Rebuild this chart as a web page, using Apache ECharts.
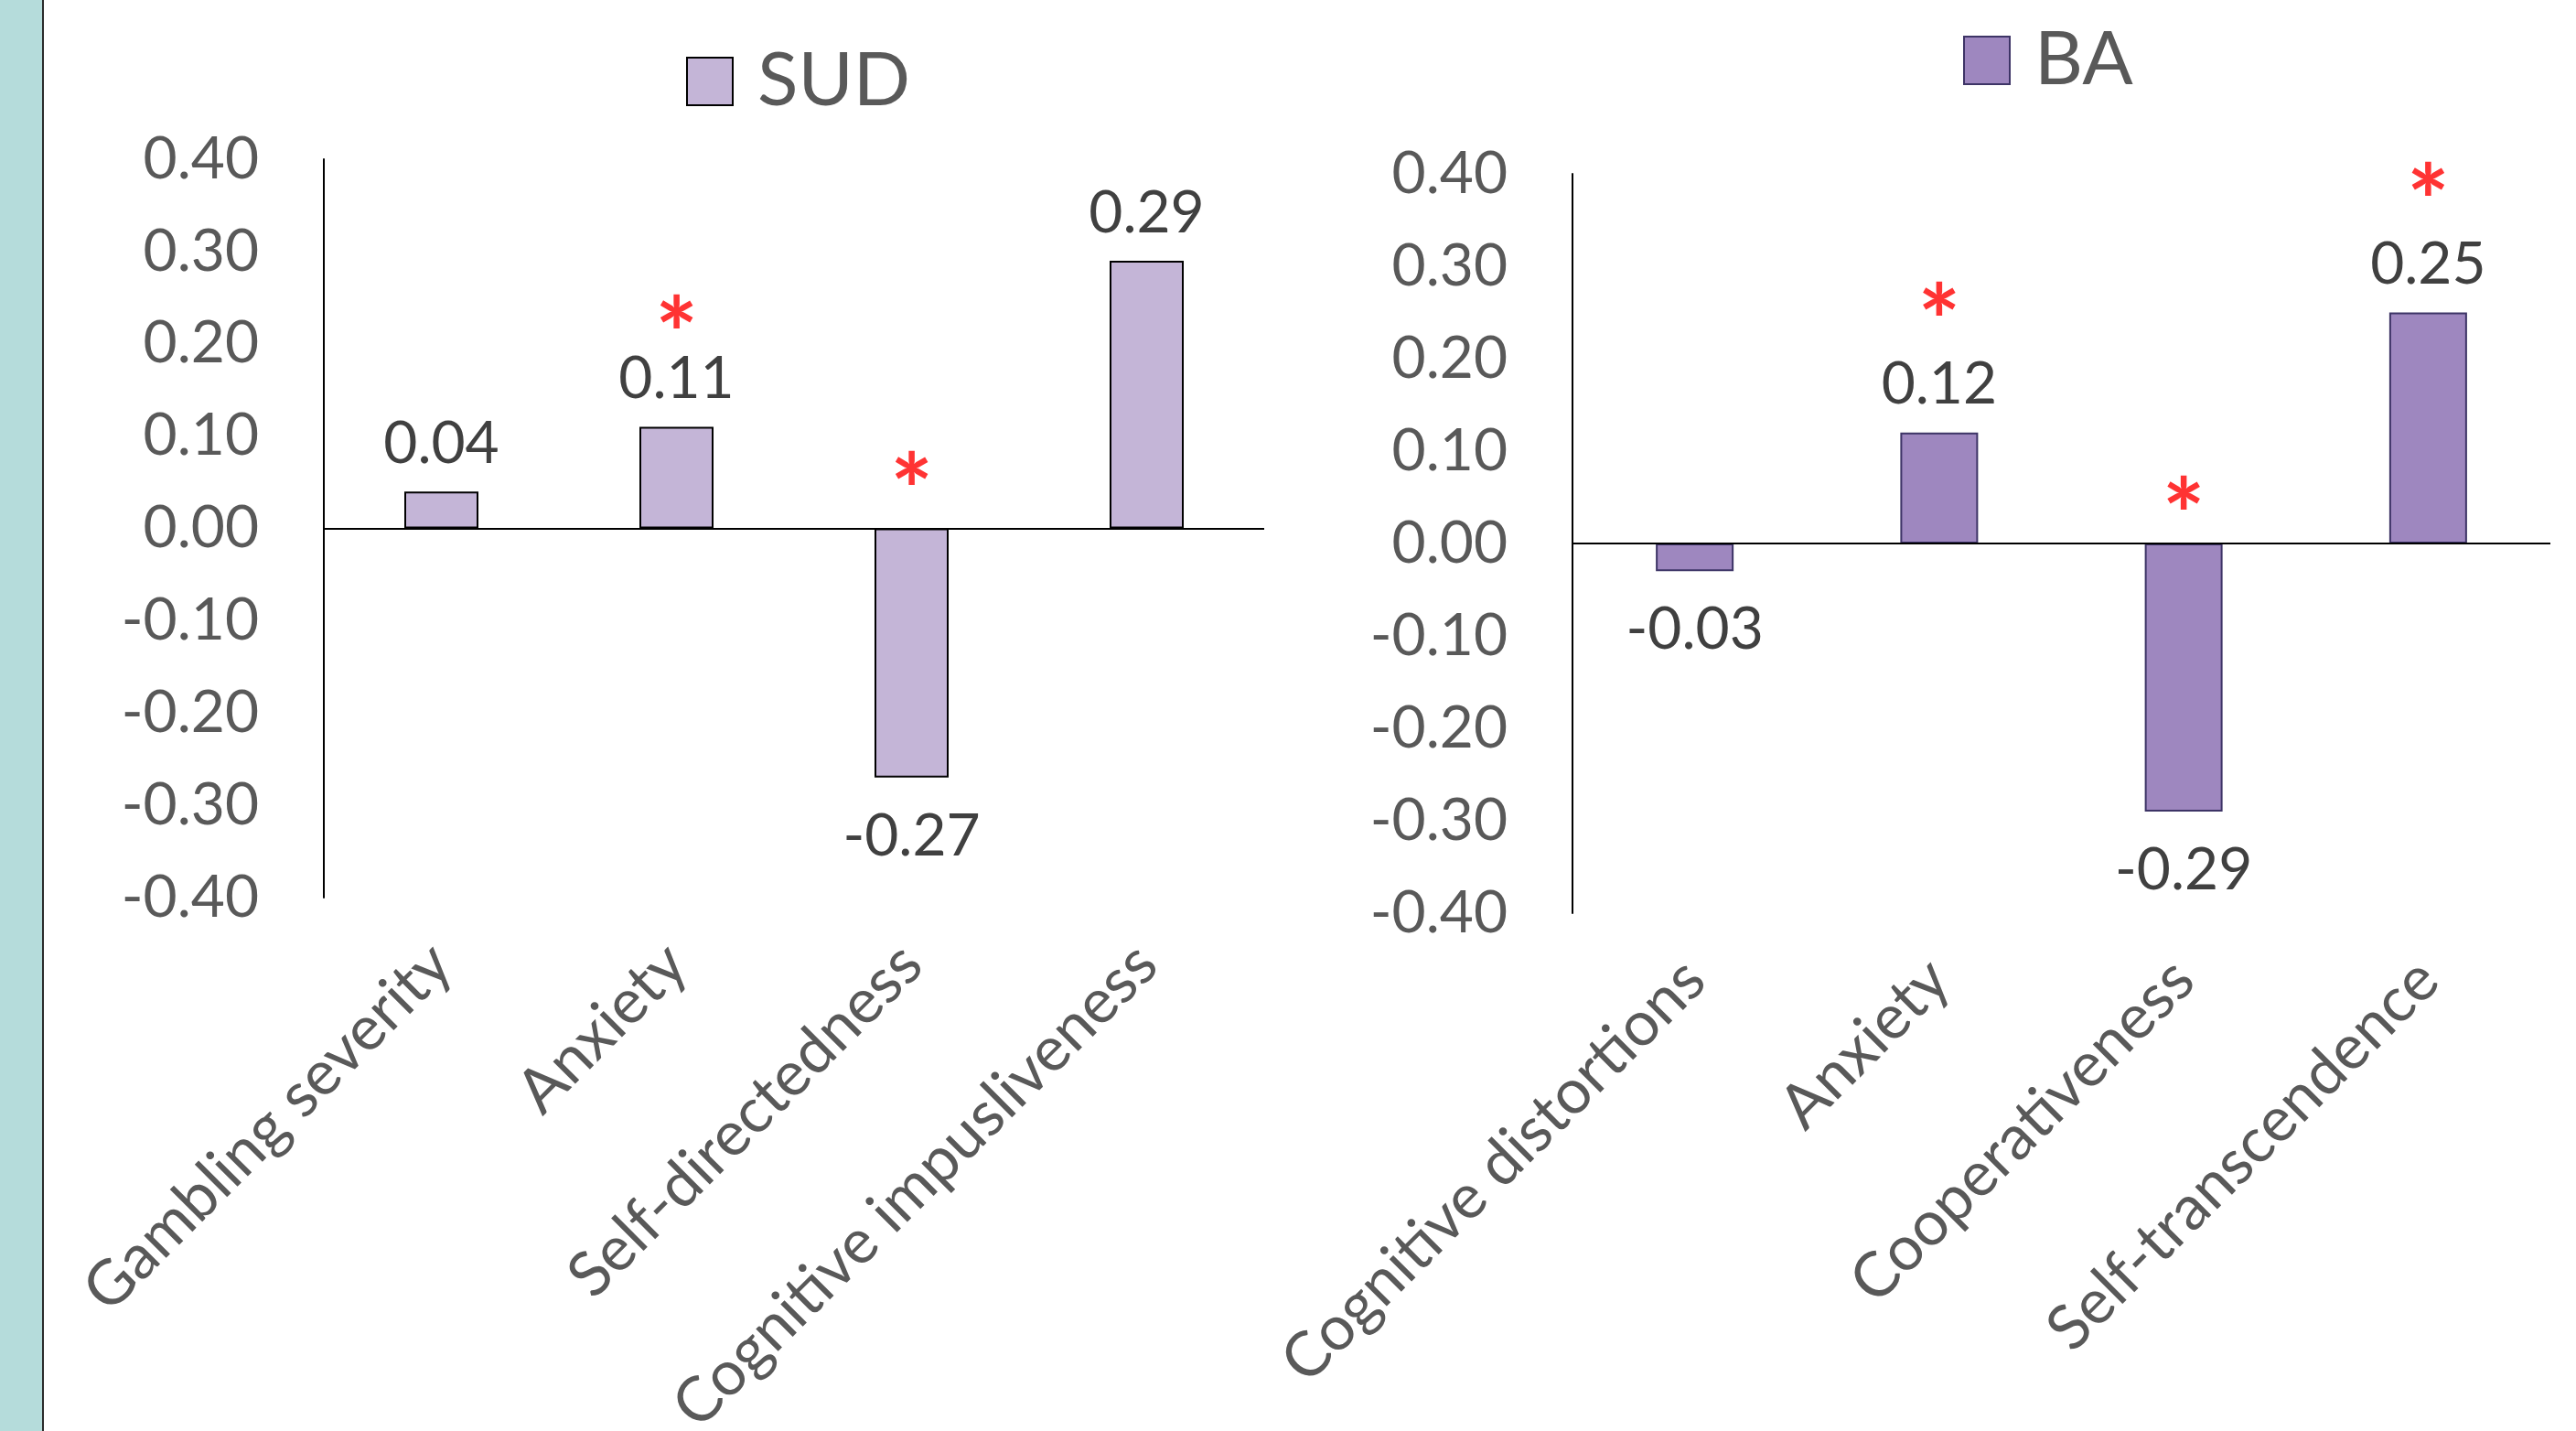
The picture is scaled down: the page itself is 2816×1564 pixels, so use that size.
<!DOCTYPE html>
<html>
<head>
<meta charset="utf-8">
<script src="https://cdn.jsdelivr.net/npm/echarts@6/dist/echarts.min.js"></script>
<style>
html,body{margin:0;padding:0;background:#fff;}
#c{width:2816px;height:1564px;}
</style>
</head>
<body>
<div id="c"></div>
<script>
// ---- data ----
const catsSUD = ['Gambling severity', 'Anxiety', 'Self-directedness', 'Cognitive impusliveness'];
const valsSUD = [0.04, 0.11, -0.27, 0.29];
const sigSUD  = [null, 0.23, 0.06, null];   // asterisk positions (axis units)

const catsBA = ['Cognitive distortions', 'Anxiety', 'Cooperativeness', 'Self-transcendence'];
const valsBA = [-0.03, 0.12, -0.29, 0.25];
const sigBA  = [null, 0.26, 0.05, 0.39];

const yTicks = { min: -0.4, max: 0.4, interval: 0.1 };

// ---- styles ----
const FONT = 'Lato';
const tickColor = '#595959';
const labelColor = '#404040';

function barData(vals) {
  return vals.map(v => ({
    value: v,
    label: v >= 0 ? { position: 'top', distance: 20 } : { position: 'bottom', distance: 32 }
  }));
}
function sigData(sig) {
  return sig.map((v, i) => v === null ? null : [i, v]);
}

const yAxisCommon = {
  type: 'value',
  min: yTicks.min, max: yTicks.max, interval: yTicks.interval,
  axisLine: { show: true, lineStyle: { color: '#000', width: 2 } },
  axisTick: { show: false },
  splitLine: { show: false },
  axisLabel: {
    color: tickColor, fontFamily: FONT, fontSize: 64, margin: 71,
    formatter: v => v.toFixed(2)
  }
};
function xAxisFor(cats, gridIndex, margin) {
  return {
    type: 'category', data: cats, gridIndex,
    axisLine: { show: false }, axisTick: { show: false },
    axisLabel: {
      rotate: 45, interval: 0, margin, color: tickColor,
      fontFamily: FONT, fontSize: 68
    }
  };
}

const zeroLine = {
  silent: true, symbol: 'none', label: { show: false },
  lineStyle: { color: '#000', width: 2, type: 'solid' },
  data: [{ yAxis: 0 }]
};

const sigLabel = {
  show: true, position: 'inside', formatter: '*', color: '#FF0000',
  fontFamily: FONT, fontWeight: 'bold', fontSize: 110, offset: [0, 24]
};

const option = {
  backgroundColor: '#fff',
  animation: false,
  graphic: [
    { type: 'rect', left: 0, top: 0, shape: { width: 46, height: 1564 }, style: { fill: '#B5DCDB' } },
    { type: 'rect', left: 46, top: 0, shape: { width: 2, height: 1564 }, style: { fill: '#2b2b2b' } }
  ],
  legend: [
    {
      data: ['SUD'], left: 750, top: 48, icon: 'rect', itemWidth: 50, itemHeight: 52, padding: 0,
      textStyle: { fontFamily: FONT, fontSize: 82, color: tickColor, padding: [0, 0, 0, 22] }
    },
    {
      data: ['BA'], left: 2146, top: 25, icon: 'rect', itemWidth: 50, itemHeight: 52, padding: 0,
      textStyle: { fontFamily: FONT, fontSize: 82, color: tickColor, padding: [0, 0, 0, 22] }
    }
  ],
  grid: [
    { left: 354, top: 174, width: 1028, height: 807, containLabel: false, outerBoundsMode: 'none' },
    { left: 1719, top: 190, width: 1069, height: 808, containLabel: false, outerBoundsMode: 'none' }
  ],
  xAxis: [xAxisFor(catsSUD, 0, 62), xAxisFor(catsBA, 1, 62)],
  yAxis: [Object.assign({ gridIndex: 0 }, yAxisCommon), Object.assign({ gridIndex: 1 }, yAxisCommon)],
  series: [
    {
      name: 'SUD', type: 'bar', xAxisIndex: 0, yAxisIndex: 0, barWidth: 81,
      data: barData(valsSUD),
      itemStyle: { color: '#C4B5D7', borderColor: '#000', borderWidth: 2 },
      label: { show: true, fontFamily: FONT, fontSize: 64, color: labelColor, formatter: p => p.value.toFixed(2) },
      markLine: zeroLine
    },
    {
      name: 'BA', type: 'bar', xAxisIndex: 1, yAxisIndex: 1, barWidth: 85,
      data: barData(valsBA),
      itemStyle: { color: '#9E87BF', borderColor: '#3D3466', borderWidth: 2 },
      label: { show: true, fontFamily: FONT, fontSize: 64, color: labelColor, formatter: p => p.value.toFixed(2) },
      markLine: zeroLine
    },
    {
      name: 'sigSUD', type: 'scatter', xAxisIndex: 0, yAxisIndex: 0,
      symbolSize: 1, itemStyle: { color: 'rgba(0,0,0,0)' }, silent: true,
      data: sigData(sigSUD), label: sigLabel
    },
    {
      name: 'sigBA', type: 'scatter', xAxisIndex: 1, yAxisIndex: 1,
      symbolSize: 1, itemStyle: { color: 'rgba(0,0,0,0)' }, silent: true,
      data: sigData(sigBA), label: sigLabel
    }
  ]
};

const chart = echarts.init(document.getElementById('c'));
chart.setOption(option);
</script>
</body>
</html>
